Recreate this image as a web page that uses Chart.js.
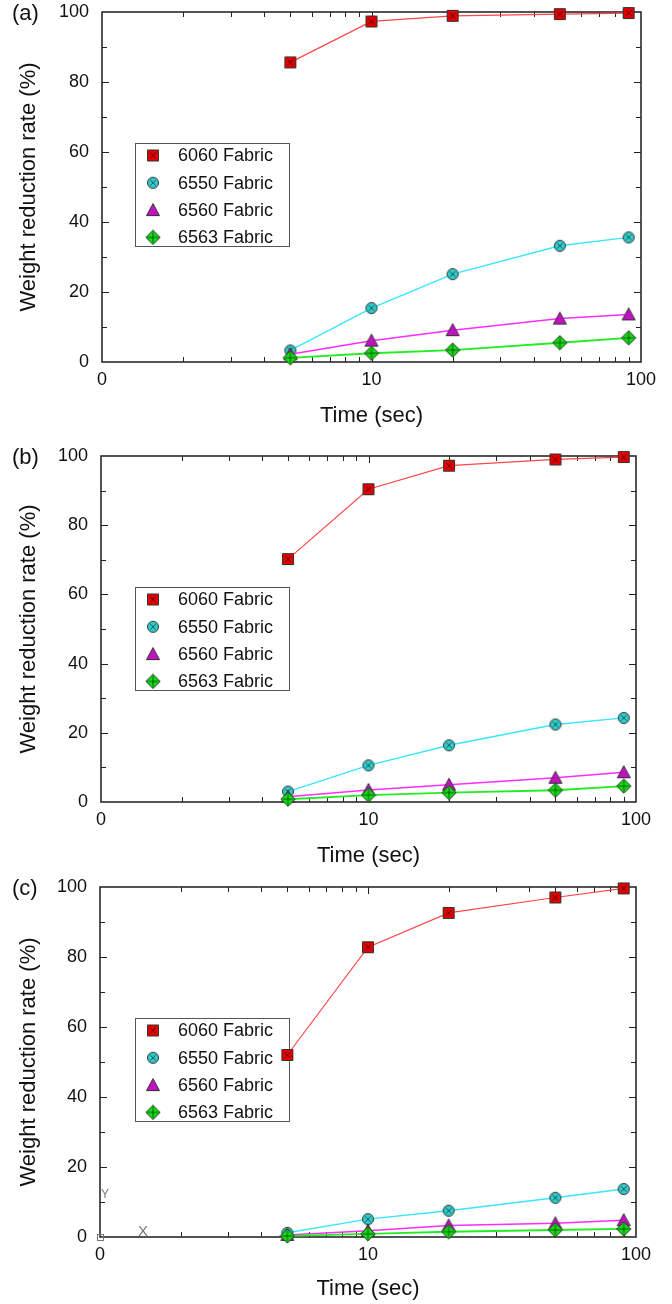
<!DOCTYPE html>
<html>
<head>
<meta charset="utf-8">
<script src="https://cdn.jsdelivr.net/npm/chart.js@4.4.1/dist/chart.umd.min.js"></script>
<style>
  html, body { margin: 0; padding: 0; background: #fff; }
  canvas { position: absolute; left: 0; }
</style>
</head>
<body>
<canvas id="chartA" width="672" height="440" style="top:0px"></canvas>
<canvas id="chartB" width="672" height="430" style="top:440px"></canvas>
<canvas id="chartC" width="672" height="434" style="top:870px"></canvas>
<script>
// x = time (sec), log axis from 1 to 100 (the "1" end is labelled 0)
const times = [5, 10, 20, 50, 90];
const fabrics = ["6060 Fabric", "6550 Fabric", "6560 Fabric", "6563 Fabric"];
const panelLabels = ["(a)", "(b)", "(c)"];

// weight reduction rate (%)
const a6060 = [85.6, 97.3, 98.9, 99.4, 99.7];
const a6550 = [3.3, 15.4, 25.1, 33.2, 35.6];
const a6560 = [2.2, 6.1, 9.1, 12.4, 13.6];
const a6563 = [1.2, 2.5, 3.4, 5.5, 6.9];

const b6060 = [70.2, 90.4, 97.2, 99.0, 99.7];
const b6550 = [3.0, 10.6, 16.4, 22.4, 24.3];
const b6560 = [1.5, 3.5, 5.0, 7.0, 8.6];
const b6563 = [0.8, 2.0, 2.7, 3.4, 4.6];

const c6060 = [52.0, 82.8, 92.6, 97.0, 99.6];
const c6550 = [1.2, 5.1, 7.5, 11.2, 13.7];
const c6560 = [0.6, 1.8, 3.3, 3.9, 4.8];
const c6563 = [0.3, 0.9, 1.5, 2.0, 2.3];

const xTickValues = [1, 2, 3, 4, 5, 6, 7, 8, 9, 10, 20, 30, 40, 50, 60, 70, 80, 90, 100];
const xTickLabels = { 1: "0", 10: "10", 100: "100" };
const yTickValues = [0, 10, 20, 30, 40, 50, 60, 70, 80, 90, 100];

const FONT = "'Liberation Sans', Arial, sans-serif";
const lineColors = ["#ff4646", "#38e6ff", "#ff2cff", "#22ee22"];
const lineWidths = [1.2, 1.4, 1.5, 1.8];

// marker glyphs (square with x, circle with x, triangle, diamond with +)
function makeMarker(kind) {
    const c = document.createElement("canvas");
    c.width = 16; c.height = 16;
    const g = c.getContext("2d");
    g.lineWidth = 1;
    g.strokeStyle = "#333";
    g.beginPath();
    if (kind === "square") {
        g.rect(2.5, 2.5, 11, 11);
        g.fillStyle = "#e20000";
    } else if (kind === "circle") {
        g.arc(8, 8, 5.5, 0, Math.PI * 2);
        g.fillStyle = "#30cccc";
    } else if (kind === "triangle") {
        g.moveTo(8, 1.5); g.lineTo(14.5, 13.5); g.lineTo(1.5, 13.5); g.closePath();
        g.fillStyle = "#c012c0";
    } else {
        g.moveTo(8, 0.8); g.lineTo(15.2, 8); g.lineTo(8, 15.2); g.lineTo(0.8, 8); g.closePath();
        g.fillStyle = "#12dd12";
    }
    g.fill();
    g.stroke();
    g.beginPath();
    g.lineWidth = 0.8;
    g.strokeStyle = "rgba(0,0,0,0.7)";
    if (kind === "square" || kind === "circle") {
        g.moveTo(5.2, 5.2); g.lineTo(10.8, 10.8);
        g.moveTo(10.8, 5.2); g.lineTo(5.2, 10.8);
    } else if (kind === "diamond") {
        g.moveTo(8, 2.5); g.lineTo(8, 13.5);
        g.moveTo(2.5, 8); g.lineTo(13.5, 8);
    }
    g.stroke();
    return c;
}
const markers = ["square", "circle", "triangle", "diamond"].map(makeMarker);

// frame, inward ticks, legend box, panel tag
const framePlugin = {
    id: "framePlugin",
    beforeDatasetsDraw(chart, args, opts) {
        const { ctx, chartArea: ca, scales } = chart;
        ctx.save();
        ctx.strokeStyle = "#222";
        ctx.lineWidth = 1;
        ctx.beginPath();
        xTickValues.forEach(v => {
            if (v === 1 || v === 100) return;
            const px = Math.round(scales.x.getPixelForValue(v)) + 0.5;
            const len = v === 10 ? 7 : 5;
            ctx.moveTo(px, ca.bottom); ctx.lineTo(px, ca.bottom - len);
            ctx.moveTo(px, ca.top); ctx.lineTo(px, ca.top + len);
        });
        yTickValues.forEach(v => {
            if (v === 0 || v === 100) return;
            const py = Math.round(scales.y.getPixelForValue(v)) + 0.5;
            const len = v % 20 === 0 ? 7 : 5;
            ctx.moveTo(ca.left, py); ctx.lineTo(ca.left + len, py);
            ctx.moveTo(ca.right, py); ctx.lineTo(ca.right - len, py);
        });
        ctx.stroke();
        ctx.lineWidth = 1.6;
        ctx.strokeStyle = "#2a2a2a";
        ctx.strokeRect(ca.left, ca.top, ca.right - ca.left, ca.bottom - ca.top);

        // legend (points are drawn over it)
        const bx = 135, by = ca.top + 131, bw = 154, bh = 103;
        ctx.strokeStyle = "#555";
        ctx.lineWidth = 1;
        ctx.strokeRect(bx + 0.5, by + 0.5, bw, bh);
        ctx.font = "18px " + FONT;
        ctx.fillStyle = "#111";
        ctx.textBaseline = "middle";
        ctx.textAlign = "left";
        fabrics.forEach((name, i) => {
            const y = by + 12.5 + i * 27.3;
            ctx.drawImage(markers[i], 153 - 8, y - 8);
            ctx.fillText(name, 178, y + 1);
        });

        // panel tag
        ctx.font = "22px " + FONT;
        ctx.fillText(opts.tag, 12, ca.top + 2);
        if (opts.stray) {
            ctx.fillStyle = "#777";
            ctx.strokeStyle = "#777";
            ctx.font = "12px " + FONT;
            ctx.fillText("Y", ca.left + 1, ca.bottom - 42);
            ctx.font = "15px " + FONT;
            ctx.fillText("X", ca.left + 38, ca.bottom - 5);
            ctx.strokeRect(ca.left - 2.5, ca.bottom - 2.5, 6, 6);
        }
        ctx.restore();
    }
};

function buildChart(id, tag, series, box, stray) {
    const H = box.h;
    return new Chart(document.getElementById(id), {
        type: "line",
        data: {
            datasets: series.map((vals, i) => ({
                label: fabrics[i],
                data: times.map((t, k) => ({ x: t, y: vals[k] })),
                borderColor: lineColors[i],
                borderWidth: lineWidths[i],
                pointStyle: markers[i],
                pointRadius: 6,
                tension: 0,
                clip: false,
                order: 3 - i,
            })),
        },
        options: {
            responsive: false,
            animation: false,
            layout: { padding: { top: box.t, right: 672 - box.r, left: 0, bottom: 0 } },
            plugins: {
                legend: { display: false },
                tooltip: { enabled: false },
                framePlugin: { tag: tag, stray: stray },
            },
            scales: {
                x: {
                    type: "logarithmic",
                    min: 1,
                    max: 100,
                    afterFit: s => {
                        s.height = H - box.b;
                        s.paddingLeft = 0;
                        s.paddingRight = 0;
                    },
                    afterBuildTicks: s => { s.ticks = xTickValues.map(v => ({ value: v })); },
                    grid: { display: false, drawTicks: false },
                    border: { display: false },
                    ticks: {
                        autoSkip: false,
                        maxRotation: 0,
                        padding: 7,
                        color: "#111",
                        font: { family: FONT, size: 18 },
                        callback: v => xTickLabels[v] || "",
                    },
                    title: {
                        display: true,
                        text: "Time (sec)",
                        color: "#111",
                        font: { family: FONT, size: 22 },
                        padding: { top: 0, bottom: H - box.titleY - 13.2 },
                    },
                },
                y: {
                    min: 0,
                    max: 100,
                    afterFit: s => {
                        s.width = box.l;
                        s.paddingTop = 0;
                        s.paddingBottom = 0;
                    },
                    grid: { display: false, drawTicks: false },
                    border: { display: false },
                    ticks: {
                        stepSize: 20,
                        padding: 13,
                        color: "#111",
                        font: { family: FONT, size: 18 },
                    },
                    title: {
                        display: true,
                        text: "Weight reduction rate (%)",
                        color: "#111",
                        font: { family: FONT, size: 22 },
                        padding: { top: 16, bottom: 0 },
                    },
                },
            },
        },
        plugins: [framePlugin],
    });
}

buildChart("chartA", panelLabels[0], [a6060, a6550, a6560, a6563],
    { h: 440, l: 102, r: 641, t: 12, b: 362, titleY: 416 }, false);
buildChart("chartB", panelLabels[1], [b6060, b6550, b6560, b6563],
    { h: 430, l: 101, r: 636, t: 16, b: 362, titleY: 416 }, false);
buildChart("chartC", panelLabels[2], [c6060, c6550, c6560, c6563],
    { h: 434, l: 100, r: 636, t: 17, b: 367, titleY: 419 }, true);
</script>
</body>
</html>
